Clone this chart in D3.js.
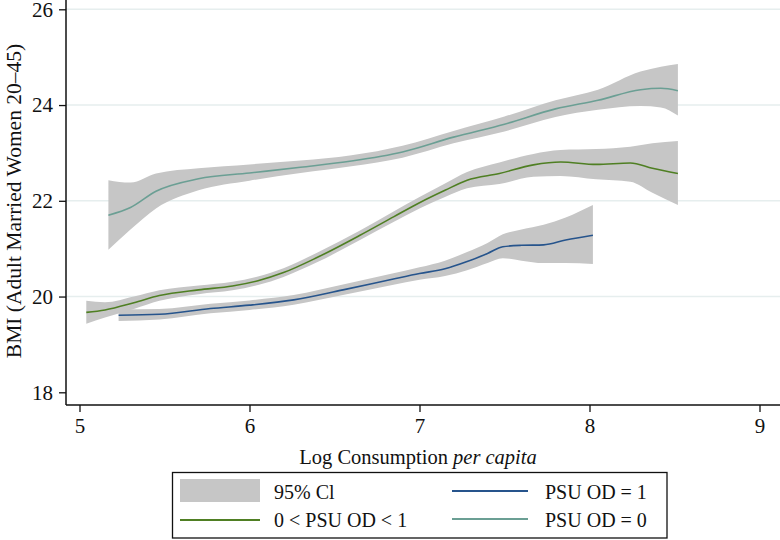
<!DOCTYPE html>
<html><head><meta charset="utf-8">
<script src="https://cdn.jsdelivr.net/npm/d3@7"></script>
<style>body{margin:0;background:#fff}svg{display:block}text{font-family:"Liberation Serif","Times New Roman",serif;fill:#111}</style>
</head><body><svg id="c" width="780" height="540"></svg>
<script>
// Data
const xTicks = [5, 6, 7, 8, 9];
const yTicks = [18, 20, 22, 24, 26];
const gridValues = [20, 22, 24, 26];

const od0X    = [5.17, 5.30, 5.45, 5.70, 6.00, 6.30, 6.60, 6.90, 7.20, 7.50, 7.80, 8.05, 8.30, 8.42, 8.52];
const od0Mean = [21.70, 21.86, 22.20, 22.46, 22.58, 22.70, 22.83, 23.02, 23.33, 23.60, 23.92, 24.10, 24.32, 24.35, 24.30];
const od0Lo   = [20.98, 21.40, 21.84, 22.22, 22.42, 22.58, 22.72, 22.90, 23.20, 23.45, 23.75, 23.90, 23.98, 23.95, 23.78];
const od0Hi   = [22.43, 22.38, 22.57, 22.68, 22.76, 22.84, 22.95, 23.15, 23.46, 23.76, 24.10, 24.32, 24.70, 24.80, 24.86];

const odMidX    = [5.04, 5.15, 5.32, 5.47, 5.70, 5.90, 6.05, 6.20, 6.40, 6.65, 6.85, 7.00, 7.15, 7.28, 7.47, 7.67, 7.83, 8.04, 8.24, 8.37, 8.52];
const odMidMean = [19.67, 19.72, 19.87, 20.02, 20.14, 20.22, 20.33, 20.50, 20.82, 21.28, 21.67, 21.96, 22.22, 22.43, 22.57, 22.75, 22.81, 22.76, 22.79, 22.68, 22.57];
const odMidHi   = [19.91, 19.88, 20.00, 20.13, 20.23, 20.31, 20.42, 20.59, 20.92, 21.38, 21.78, 22.08, 22.36, 22.60, 22.80, 22.98, 23.06, 23.08, 23.13, 23.20, 23.25];
const odMidLo   = [19.43, 19.56, 19.74, 19.91, 20.05, 20.13, 20.24, 20.41, 20.72, 21.18, 21.56, 21.84, 22.08, 22.26, 22.35, 22.50, 22.52, 22.45, 22.40, 22.17, 21.91];

const od1X    = [5.23, 5.47, 5.77, 6.00, 6.26, 6.55, 6.84, 7.00, 7.15, 7.28, 7.40, 7.49, 7.60, 7.73, 7.86, 8.02];
const od1Mean = [19.61, 19.63, 19.75, 19.82, 19.93, 20.14, 20.36, 20.48, 20.58, 20.73, 20.90, 21.04, 21.07, 21.08, 21.18, 21.28];
const od1Hi   = [19.73, 19.74, 19.85, 19.92, 20.03, 20.25, 20.48, 20.61, 20.75, 20.93, 21.12, 21.30, 21.40, 21.50, 21.65, 21.91];
const od1Lo   = [19.49, 19.52, 19.65, 19.72, 19.83, 20.03, 20.24, 20.35, 20.43, 20.55, 20.70, 20.80, 20.75, 20.70, 20.70, 20.68];

const legendLabels = ["95% Cl", "0 < PSU OD < 1", "PSU OD = 1", "PSU OD = 0"];

// Styles
const colOd0 = "#6b9f94", colMid = "#4f7f23", colOd1 = "#26548c", colCI = "#c6c6c6", colGrid = "#e6eeee";

const svg = d3.select("#c");
const x = d3.scaleLinear().domain([5, 9]).range([79.5, 759.5]);
const y = d3.scaleLinear().domain([18, 26]).range([392.3, 9.3]);
const left = 66, bottom = 405, right = 780;

// grid
svg.append("g").selectAll("line").data(gridValues).join("line")
  .attr("x1", left).attr("x2", right).attr("y1", d => y(d)).attr("y2", d => y(d))
  .attr("stroke", colGrid).attr("stroke-width", 1.5);

function series(xs, mean, lo, hi, color) {
  const pts = xs.map((v, i) => ({x: v, m: mean[i], lo: lo[i], hi: hi[i]}));
  const area = d3.area().x(d => x(d.x)).y0(d => y(d.lo)).y1(d => y(d.hi)).curve(d3.curveMonotoneX);
  const line = d3.line().x(d => x(d.x)).y(d => y(d.m)).curve(d3.curveMonotoneX);
  return {pts, area, line, color};
}
const S = [
  series(od0X, od0Mean, od0Lo, od0Hi, colOd0),
  series(odMidX, odMidMean, odMidLo, odMidHi, colMid),
  series(od1X, od1Mean, od1Lo, od1Hi, colOd1)
];
S.forEach(s => svg.append("path").attr("d", s.area(s.pts)).attr("fill", colCI));
S.forEach(s => svg.append("path").attr("d", s.line(s.pts)).attr("fill", "none").attr("stroke", s.color).attr("stroke-width", 1.6));

// axes
const xAxis = d3.axisBottom(x).tickValues(xTicks).tickSize(7).tickPadding(6).tickFormat(d3.format("d"));
const gx = svg.append("g").attr("transform", `translate(0,${bottom})`).call(xAxis);
gx.select(".domain").remove();
gx.append("line").attr("x1", left).attr("x2", right).attr("stroke", "#111").attr("stroke-width", 1.5);
gx.selectAll(".tick line").attr("stroke", "#111").attr("stroke-width", 1.3);
gx.selectAll(".tick text").attr("font-size", 21).attr("font-family", "Liberation Serif").attr("fill", "#111");

const yAxis = d3.axisLeft(y).tickValues(yTicks).tickSize(7).tickPadding(6).tickFormat(d3.format("d"));
const gy = svg.append("g").attr("transform", `translate(${left},0)`).call(yAxis);
gy.select(".domain").remove();
gy.append("line").attr("y1", 0).attr("y2", bottom).attr("stroke", "#111").attr("stroke-width", 1.5);
gy.selectAll(".tick line").attr("stroke", "#111").attr("stroke-width", 1.3);
gy.selectAll(".tick text").attr("font-size", 21).attr("font-family", "Liberation Serif").attr("fill", "#111");

// titles
const xt = svg.append("text").attr("x", 418).attr("y", 464).attr("text-anchor", "middle").attr("font-size", 20.5);
xt.append("tspan").text("Log Consumption ");
xt.append("tspan").attr("font-style", "italic").text("per capita");

svg.append("text").attr("transform", "translate(21,201) rotate(-90)").attr("text-anchor", "middle")
  .attr("font-size", 21.5).text("BMI (Adult Married Women 20\u201345)");

// legend
const lg = svg.append("g");
lg.append("rect").attr("x", 172.5).attr("y", 472.5).attr("width", 494.5).attr("height", 65.5)
  .attr("fill", "#fff").attr("stroke", "#111").attr("stroke-width", 1.3);
lg.append("rect").attr("x", 180).attr("y", 479).attr("width", 80).attr("height", 23).attr("fill", colCI);
lg.append("line").attr("x1", 180).attr("x2", 260).attr("y1", 520).attr("y2", 520).attr("stroke", colMid).attr("stroke-width", 2);
lg.append("line").attr("x1", 452).attr("x2", 528).attr("y1", 491).attr("y2", 491).attr("stroke", colOd1).attr("stroke-width", 2);
lg.append("line").attr("x1", 452).attr("x2", 528).attr("y1", 519).attr("y2", 519).attr("stroke", colOd0).attr("stroke-width", 2);
const lpos = [[274, 499], [274, 527], [545, 499], [545, 527]];
lg.selectAll("text.l").data(legendLabels).join("text").attr("class", "l")
  .attr("x", (d, i) => lpos[i][0]).attr("y", (d, i) => lpos[i][1]).attr("font-size", 20).text(d => d);
</script></body></html>
